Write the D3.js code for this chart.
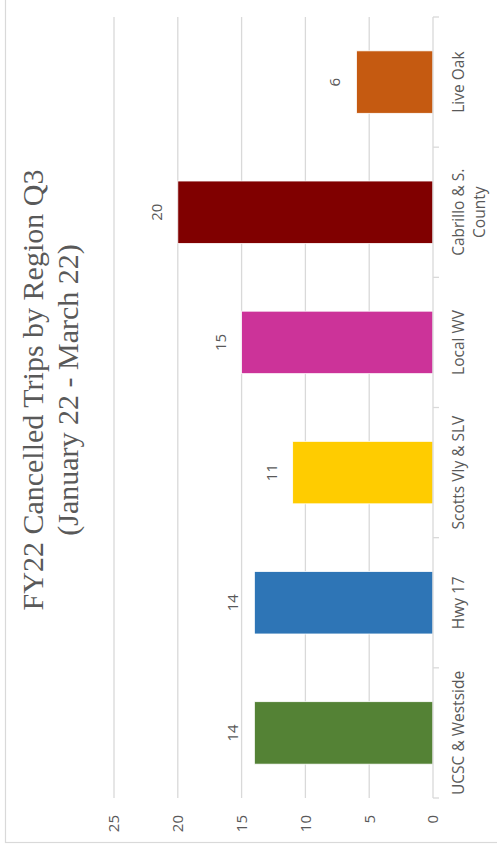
<!DOCTYPE html>
<html>
<head>
<meta charset="utf-8">
<script src="https://cdn.jsdelivr.net/npm/d3@7"></script>
<style>
  html, body { margin: 0; padding: 0; background: #ffffff; }
  svg { display: block; }
</style>
</head>
<body>
<svg id="chart" width="497" height="852"></svg>
<script>
// Cancelled trips per region, FY22 Q3
const categories = ["UCSC & Westside", "Hwy 17", "Scotts Vly & SLV", "Local WV", "Cabrillo & S. County", "Live Oak"];
const categoryLines = [["UCSC & Westside"], ["Hwy 17"], ["Scotts Vly & SLV"], ["Local WV"], ["Cabrillo & S.", "County"], ["Live Oak"]];
const values = [14, 14, 11, 15, 20, 6];
const colors = ["#548235", "#2E75B6", "#FFCC00", "#CC3399", "#800000", "#C55A11"];
const tickValues = [0, 5, 10, 15, 20, 25];
const titleLines = ["FY22 Cancelled Trips by Region Q3", "(January 22 - March 22)"];

const svg = d3.select("#chart");
const W = 852, H = 497; // chart frame before it is turned on its side

// The whole chart is laid out landscape, then turned a quarter turn anticlockwise.
const g = svg.append("g").attr("transform", `translate(0,${W}) rotate(-90)`);

// outer chart border
g.append("rect")
  .attr("x", 9.5).attr("y", 5.5)
  .attr("width", W + 20).attr("height", H + 20)
  .attr("fill", "#ffffff")
  .attr("stroke", "#d9d9d9").attr("stroke-width", 1.2);

const plotLeft = 54, plotRight = 835;
const x = d3.scaleBand().domain(categories).range([plotLeft, plotRight])
  .paddingInner(0.52).paddingOuter(0.26);
const y = d3.scaleLinear().domain([0, 25]).range([433, 114]);

const textColor = "#595959";
const sans = "'Open Sans', 'Noto Sans', sans-serif";

// gridlines
g.append("g").selectAll("line")
  .data(tickValues.filter(v => v > 0))
  .join("line")
  .attr("x1", plotLeft).attr("x2", plotRight)
  .attr("y1", d => y(d)).attr("y2", d => y(d))
  .attr("stroke", "#d9d9d9").attr("stroke-width", 1.3);

// value axis labels
const yAxis = d3.axisLeft(y).tickValues(tickValues).tickSize(0).tickPadding(0);
const ya = g.append("g").attr("transform", `translate(37,0)`).call(yAxis);
ya.select(".domain").remove();
ya.selectAll("text")
  .attr("x", 0)
  .attr("fill", textColor)
  .style("font-family", sans)
  .style("font-size", "15px");

// bars
g.append("g").selectAll("rect")
  .data(values)
  .join("rect")
  .attr("x", (d, i) => x(categories[i]))
  .attr("width", x.bandwidth())
  .attr("y", d => y(d))
  .attr("height", d => y(0) - y(d))
  .attr("fill", (d, i) => colors[i])
  .attr("stroke", "#ffffff").attr("stroke-width", 0.8);

// category axis line and boundary ticks
g.append("line")
  .attr("x1", plotLeft).attr("x2", plotRight)
  .attr("y1", y(0)).attr("y2", y(0))
  .attr("stroke", "#d9d9d9").attr("stroke-width", 1.3);
const step = x.step();
g.append("g").selectAll("line")
  .data(d3.range(categories.length + 1))
  .join("line")
  .attr("x1", i => plotLeft + i * step).attr("x2", i => plotLeft + i * step)
  .attr("y1", y(0)).attr("y2", y(0) + 6)
  .attr("stroke", "#d9d9d9").attr("stroke-width", 1.3);

// value labels above bars
g.append("g").selectAll("text")
  .data(values)
  .join("text")
  .attr("x", (d, i) => x(categories[i]) + x.bandwidth() / 2)
  .attr("y", d => y(d) - 16)
  .attr("text-anchor", "middle")
  .attr("fill", textColor)
  .style("font-family", sans)
  .style("font-size", "15px")
  .text(d => d);

// category labels
const cat = g.append("g").selectAll("text")
  .data(categoryLines)
  .join("text")
  .attr("text-anchor", "middle")
  .attr("fill", textColor)
  .style("font-family", sans)
  .style("font-size", "15.5px")
  .attr("transform", (d, i) => `translate(${x(categories[i]) + x.bandwidth() / 2},464)`);
cat.selectAll("tspan")
  .data(d => d)
  .join("tspan")
  .attr("x", 0)
  .attr("y", (d, j) => j * 21)
  .text(d => d);

// title
g.append("g").selectAll("text")
  .data(titleLines)
  .join("text")
  .attr("x", 462)
  .attr("y", (d, i) => 43 + i * 35)
  .attr("text-anchor", "middle")
  .attr("fill", textColor)
  .style("font-family", "'Liberation Serif', 'Times New Roman', serif")
  .style("font-size", "30px")
  .text(d => d);
</script>
</body>
</html>
